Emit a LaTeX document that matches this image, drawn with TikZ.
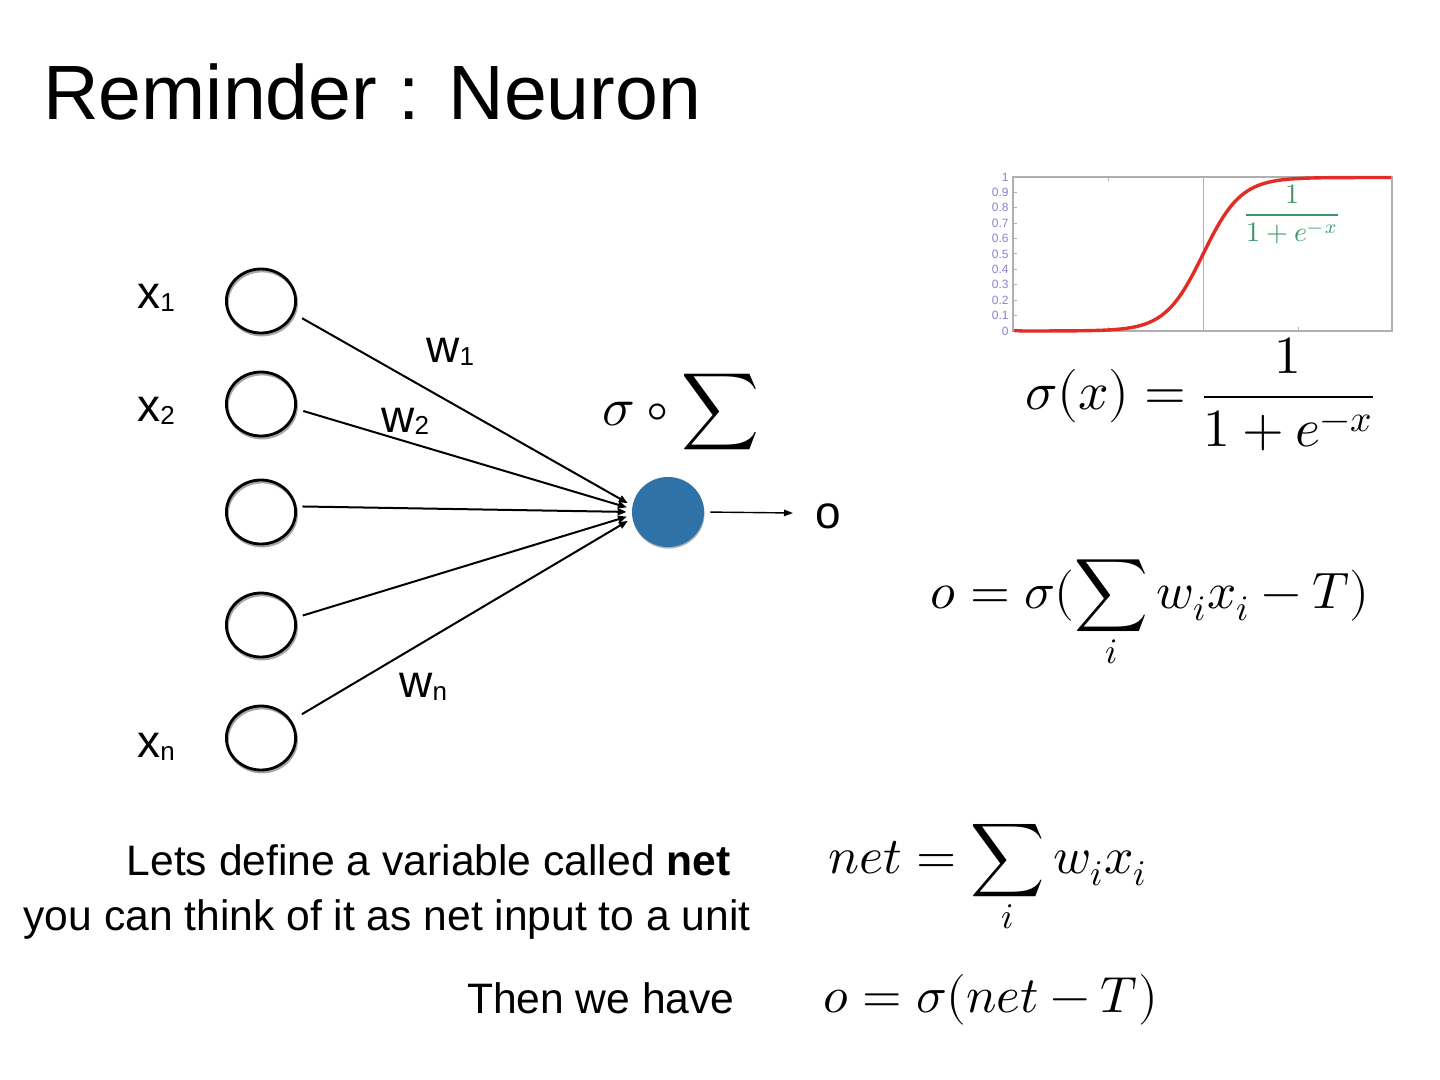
\documentclass[tikz,border=0pt]{standalone}
\usepackage{fontspec}
\usepackage{unicode-math}
\setmainfont{Liberation Sans}
\setmathfont{Latin Modern Math}
\usetikzlibrary{arrows.meta,shapes.geometric,shadows}
\definecolor{neuronblue}{RGB}{46,114,168}
\definecolor{plotred}{RGB}{225,45,35}
\definecolor{ticklbl}{RGB}{140,130,205}
\definecolor{plotgreen}{RGB}{60,150,105}
\definecolor{framegray}{RGB}{175,175,175}
\begin{document}
\begin{tikzpicture}[x=0.5pt,y=-0.5pt,
  titletext/.style={inner sep=0pt, font=\fontsize{38.5}{44}\selectfont},
  bodytext/.style={inner sep=0pt, font=\fontsize{21.3}{25}\selectfont},
  lbl/.style={inner sep=0pt, font=\fontsize{23}{26}\selectfont},
  mathnode/.style={inner sep=0pt, font=\fontsize{25.8}{30}\selectfont},
  inputnode/.style={ellipse, draw=black, line width=1.4pt, minimum width=34.6pt,
    minimum height=32pt, inner sep=0pt,
    general shadow={draw=gray!70, fill=none, line width=1.4pt, shadow xshift=0.5pt, shadow yshift=-1pt}},
  outnode/.style={ellipse, fill=neuronblue, minimum width=36pt, minimum height=35pt, inner sep=0pt,
    general shadow={fill=gray!60, shadow xshift=0.3pt, shadow yshift=-0.8pt}},
  conn/.style={line width=1pt, -{Triangle[length=4.5pt,width=3.5pt]}, shorten >=2.5pt},
  outarrow/.style={line width=0.7pt, -{Triangle[length=4.5pt,width=3.2pt]}, shorten <=3pt},
  ticklabel/.style={inner sep=0pt, anchor=east, text=ticklbl, font=\fontsize{6}{6}\selectfont}
]
\useasboundingbox (0,0) rectangle (1440,1080);
\fill[white] (0,0) rectangle (1440,1080);

% title
\node[titletext, anchor=base west] (title) at (43,120) {Reminder : Neuron};

% input units
\node[inputnode] (i1) at (261,301) {};
\node[inputnode] (i2) at (261,404) {};
\node[inputnode] (i3) at (261,512) {};
\node[inputnode] (i4) at (261,625) {};
\node[inputnode] (i5) at (261,738) {};

% output unit
\node[outnode] (out) at (668,512) {};

% input labels
\newcommand{\subsc}[1]{\raisebox{-1.5pt}{\fontsize{13}{14}\selectfont #1}}
\node[lbl, anchor=base west] (x1) at (137,309) {x\subsc{1}};
\node[lbl, anchor=base west] (x2) at (137,422) {x\subsc{2}};
\node[lbl, anchor=base west] (xn) at (137,757) {x\subsc{n}};

% weight labels
\node[lbl, anchor=base west] (w1) at (426,363) {w\subsc{1}};
\node[lbl, anchor=base west] (w2) at (381,432) {w\subsc{2}};
\node[lbl, anchor=base west] (wn) at (399,697) {w\subsc{n}};

% connectors
\draw[conn, shorten <=4.5pt] (i1.-21) -- (out.170);
\draw[conn, shorten <=3.5pt] (i2.-8) -- (out.175);
\draw[conn, shorten <=3pt] (i3.9) -- (out.180);
\draw[conn, shorten <=3.5pt] (i4.12) -- (out.185);
\draw[conn, shorten <=6pt] (i5.30) -- (out.190);

% output
\node[lbl, anchor=base west] (olbl) at (815,528) {o};
\coordinate (oend) at (793,513);
\draw[outarrow] (out.east) -- (oend);

% sigma circ sum
\node[mathnode, font=\fontsize{27}{31}\selectfont] (sigsum) at (681,412) {$\displaystyle \sigma\circ\sum$};

% sigmoid plot
\draw[framegray, line width=0.6pt] (1013,177) rectangle (1392,331);
\draw[framegray, line width=0.5pt] (1203,177) -- (1203,331);
\foreach \xx in {1108,1298} {
  \draw[framegray, line width=0.5pt] (\xx,177) -- (\xx,181);
  \draw[framegray, line width=0.5pt] (\xx,331) -- (\xx,327);
}
\foreach \k/\t in {0/0,1/0.1,2/0.2,3/0.3,4/0.4,5/0.5,6/0.6,7/0.7,8/0.8,9/0.9,10/1} {
  \draw[framegray, line width=0.5pt] (1013,{331-15.4*\k}) -- (1017,{331-15.4*\k});
  \node[ticklabel] (tl\k) at (1009,{331-15.4*\k}) {\t};
}
\draw[plotred, line width=1.7pt, line join=round] (1014,330.5) --
  plot[domain=-9.5:9.9, samples=120, smooth] ({1203+19*\x},{331-153.5/(1+exp(-\x))});
\node[inner sep=0pt, text=plotgreen, font=\fontsize{14}{16}\selectfont] (gformula) at (1292,214)
  {$\displaystyle\frac{1}{1+e^{-\,x}}$};

% formulas
\node[mathnode, font=\fontsize{26.8}{31}\selectfont, anchor=base west] (sigdef) at (1025,410)
  {$\displaystyle \sigma(x) = \frac{1}{1+e^{-x}}$};
\node[mathnode, font=\fontsize{25.6}{30}\selectfont, anchor=base west] (oformula) at (930,608)
  {$\displaystyle o = \sigma(\sum_i w_i x_i - T)$};
\node[mathnode, anchor=base west] (netdef) at (828,873)
  {$\displaystyle net = \sum_i w_i x_i$};
\node[mathnode, font=\fontsize{25.4}{30}\selectfont, anchor=base west] (onet) at (823,1012)
  {$\displaystyle o = \sigma(net - T)$};

% body text
\node[bodytext, anchor=base east] (line1) at (731,875) {Lets define a variable called \textbf{net}};
\node[bodytext, anchor=base east] (line2) at (751,930) {you can think of it as net input to a unit};
\node[bodytext, anchor=base east] (line3) at (735,1013) {Then we have};
\end{tikzpicture}
\end{document}
